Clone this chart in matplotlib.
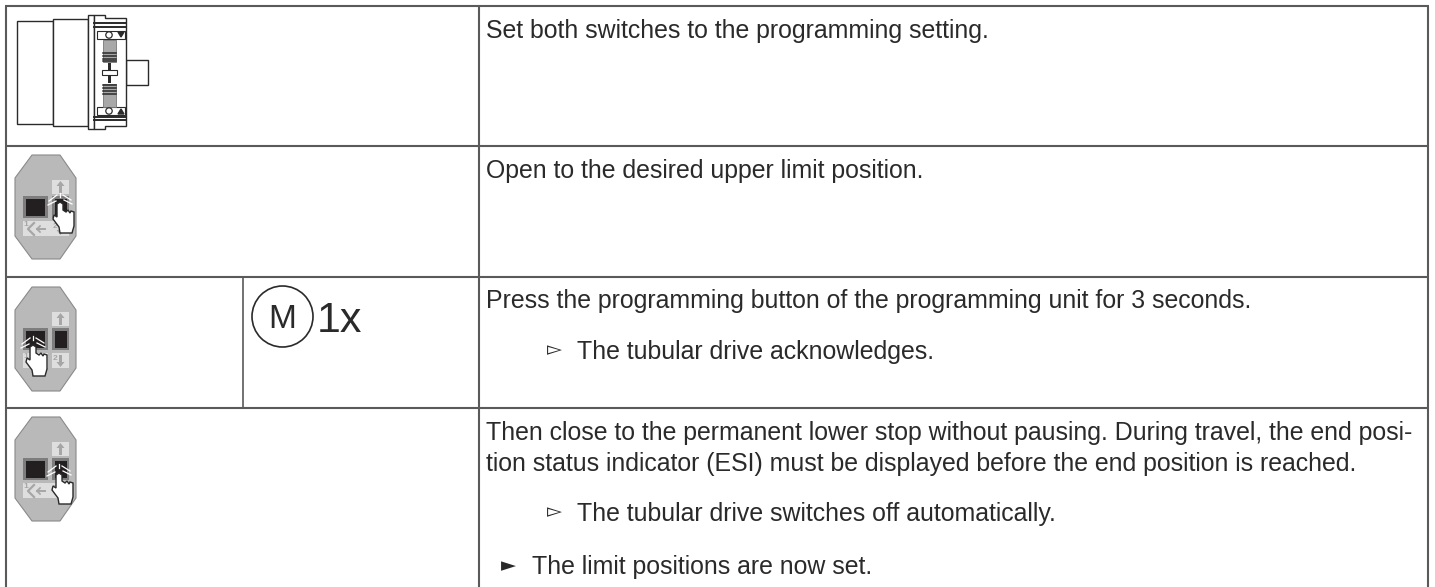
import matplotlib
matplotlib.use('Agg')
import matplotlib.pyplot as plt
from matplotlib.patches import Polygon, Rectangle, Circle

plt.rcParams['font.family'] = ['Liberation Sans', 'DejaVu Sans']

# Table content
row_lines = [6, 146, 277, 408]
step_texts = ['Set both switches to the programming setting.',
              'Open to the desired upper limit position.',
              'Press the programming button of the programming unit for 3 seconds.',
              'Then close to the permanent lower stop without pausing. During travel, the end posi-',
              'tion status indicator (ESI) must be displayed before the end position is reached.']
step_y = [38, 178, 308, 440, 471]
result_texts = ['The tubular drive acknowledges.', 'The tubular drive switches off automatically.']
result_y = [359, 521]
final_text = 'The limit positions are now set.'
final_y = 574
count_label = '1x'
button_label = 'M'

TEXT = '#2a2a2a'
LINE = '#5a5a5a'
INK = '#2a2a2a'
GREY = '#b9b9b9'
PANEL = '#dedede'
MARK = '#a6a6a6'
FONT = 17.9

fig = plt.figure(figsize=(14.35, 5.87), dpi=100)
ax = fig.add_axes([0, 0, 1, 1])
ax.set_xlim(0, 1435)
ax.set_ylim(587, 0)
ax.axis('off')


def box(x0, y0, x1, y1, fc='white', ec=INK, lw=1.0, z=2):
    ax.add_patch(Rectangle((x0, y0), x1 - x0, y1 - y0, facecolor=fc, edgecolor=ec, linewidth=lw, zorder=z))


def arrow(x, tip_y, tail_y):
    # small block arrow used on the remote
    d = 1 if tail_y > tip_y else -1
    pts = [(x, tip_y), (x + 4, tip_y + 5 * d), (x + 1.5, tip_y + 5 * d), (x + 1.5, tail_y),
           (x - 1.5, tail_y), (x - 1.5, tip_y + 5 * d), (x - 4, tip_y + 5 * d)]
    ax.add_patch(Polygon(pts, closed=True, facecolor=MARK, edgecolor='none', zorder=5))


# Grid, no closing line at the bottom
for y in row_lines:
    ax.plot([5, 1429], [y, y], color=LINE, lw=1.5, solid_capstyle='butt')
for x in [6, 479, 1428]:
    ax.plot([x, x], [row_lines[0], 587], color=LINE, lw=1.5, solid_capstyle='butt')
ax.plot([243, 243], [row_lines[2], row_lines[3]], color=LINE, lw=1.2)

# Drive head in the first row
box(17, 21, 53, 124)
box(53, 19, 88, 126)
box(126, 60, 148, 85)
box(88, 15, 94, 129)
ax.add_patch(Polygon([(94, 15), (105, 15), (105, 18), (126, 18), (126, 126), (105, 126), (105, 129), (94, 129)],
                     closed=True, facecolor='white', edgecolor=INK, linewidth=1.0, zorder=2))
for y in [23, 27, 117, 120]:
    ax.plot([94, 126], [y, y], color=INK, lw=1.4, zorder=3)
box(97, 31, 125, 39, lw=0.8, z=3)
box(97, 107, 125, 115, lw=0.8, z=3)
ax.add_patch(Circle((109, 35), 3.2, facecolor='white', edgecolor=INK, linewidth=0.9, zorder=4))
ax.add_patch(Circle((109, 111), 3.2, facecolor='white', edgecolor=INK, linewidth=0.9, zorder=4))
ax.add_patch(Polygon([(118, 32), (124, 32), (121, 37)], closed=True, color=INK, zorder=4))
ax.add_patch(Polygon([(118, 114), (124, 114), (121, 109)], closed=True, color=INK, zorder=4))
box(103, 40, 116, 62, fc='#a8a8a8', ec='#777777', lw=0.6, z=3)
box(103, 84, 116, 107, fc='#a8a8a8', ec='#777777', lw=0.6, z=3)
for y in [53, 56, 59, 61, 85, 88, 91, 94]:
    ax.plot([103, 116], [y, y], color=INK, lw=1.1, zorder=4)
box(102, 70, 117, 75, lw=0.8, z=4)
box(107.5, 63, 110.5, 70, fc=INK, ec='none', z=3)
box(107.5, 76, 110.5, 83, fc=INK, ec='none', z=3)


# Remote control icon, same body in rows 2-4
def remote(top, tip, split_panel):
    body = [(32, top), (60, top), (76, top + 23), (76, top + 81), (60, top + 104), (32, top + 104), (15, top + 81), (15, top + 23)]
    ax.add_patch(Polygon(body, closed=True, facecolor=GREY, edgecolor='#8a8a8a', linewidth=0.8, zorder=2))
    box(52, top + 25, 69, top + 39, fc=PANEL, ec='none')
    if split_panel:
        box(23, top + 66, 48, top + 81, fc=PANEL, ec='none')
        box(52, top + 66, 69, top + 81, fc=PANEL, ec='none')
    else:
        box(23, top + 66, 69, top + 81, fc=PANEL, ec='none')
    box(23, top + 41, 48, top + 63, fc='#7d7d7d', ec='none', z=3)
    box(26, top + 44, 45, top + 61, fc='#231f20', ec='none', z=4)
    box(52, top + 41, 69, top + 63, fc='#7d7d7d', ec='none', z=3)
    box(54.5, top + 44, 66.5, top + 61, fc='#231f20', ec='none', z=4)
    arrow(60.5, top + 26, top + 38)
    arrow(60.5, top + 80, top + 68)
    ax.text(55, top + 71, '2', fontsize=6, color=MARK, va='center', ha='center', fontweight='bold', zorder=5)
    ax.text(26, top + 70, '1', fontsize=6, color=MARK, va='center', ha='center', fontweight='bold', zorder=5)
    ax.plot([37, 45], [top + 74, top + 74], color=MARK, lw=1.4, zorder=5)
    ax.plot([40, 37, 40], [top + 71, top + 74, top + 77], color=MARK, lw=1.2, zorder=5)
    ax.plot([34, 28, 34], [top + 68, top + 74, top + 80], color=MARK, lw=1.6, zorder=5)
    # rays and hand
    tx, ty = tip
    for dx0, dy0, dx1, dy1 in [(-3, -7, -11, -1), (-4, -1, -12, 3), (0, -5, 0, -9), (3, -7, 11, -2), (4, -2, 12, 2)]:
        ax.plot([tx + dx0, tx + dx1], [ty + dy0, ty + dy1], color='white', lw=0.9, zorder=6)
    hand = [(-3, 2), (-3, 15), (-6, 13), (-7, 17), (-1, 25), (0, 31), (12, 31), (14, 24), (14, 10), (11, 9), (10, 11), (8, 8), (6, 10), (3, 8), (3, 2), (0, 0)]
    ax.add_patch(Polygon([(tx + a, ty + b) for a, b in hand], closed=True, facecolor='white', edgecolor=INK, linewidth=1.0, zorder=7))


remote(155, (60, 202), False)
remote(287, (33, 345), True)
remote(417, (59, 473), False)

# Programming button
ax.add_patch(Circle((282.5, 316.5), 30.5, facecolor='white', edgecolor=INK, linewidth=1.2, zorder=2))
ax.text(282.5, 328, button_label, fontsize=24, ha='center', va='baseline', color=INK, zorder=3)
ax.text(317, 332, count_label, fontsize=31, ha='left', va='baseline', color=INK, zorder=3)

# Instruction text
for s, y in zip(step_texts, step_y):
    ax.text(486, y, s, fontsize=FONT, color=TEXT, va='baseline')
for s, y in zip(result_texts, result_y):
    ax.text(547, y - 3.5, '\u25bb', fontsize=14, color=TEXT, va='baseline', family=['DejaVu Sans'])
    ax.text(577, y, s, fontsize=FONT, color=TEXT, va='baseline')
ax.text(501, final_y - 2.5, '\u25ba', fontsize=14, color=TEXT, va='baseline', family=['DejaVu Sans'])
ax.text(532, final_y, final_text, fontsize=FONT, color=TEXT, va='baseline')

fig.savefig('out.png', dpi=100)
